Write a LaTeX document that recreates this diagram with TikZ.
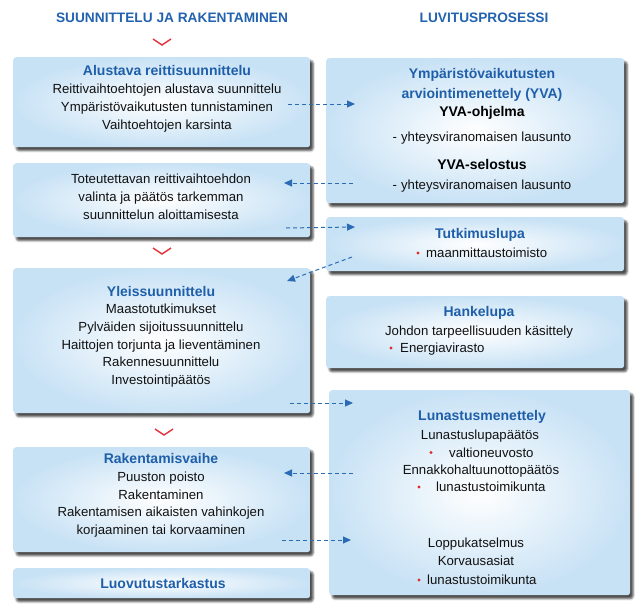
\documentclass[tikz,border=0pt]{standalone}
\usepackage{fontspec}
\setmainfont{Liberation Sans}
\usetikzlibrary{shadows.blur,arrows.meta}
\definecolor{ttlblue}{HTML}{1F5FAA}
\definecolor{hdrblue}{HTML}{2262AE}
\definecolor{arrblue}{HTML}{2A6BB3}
\definecolor{chevred}{HTML}{E5323C}
\definecolor{bulred}{HTML}{E02B2B}
\definecolor{boxblue}{HTML}{C8E2F5}
\definecolor{txt}{HTML}{111111}
\begin{document}
\begin{tikzpicture}[x=1pt,y=-1pt,
  box/.style={anchor=north west, inner sep=0pt, rounded corners=3pt, shade, inner color=white, outer color=boxblue,
    blur shadow={shadow xshift=3pt, shadow yshift=-3.5pt, shadow blur radius=2pt, shadow opacity=70}},
  ln/.style={anchor=base, inner sep=0pt, font=\fontsize{13.2}{15}\selectfont, text=txt},
  lnw/.style={ln, anchor=base west},
  ttl/.style={anchor=base, inner sep=0pt, font=\fontsize{14}{16}\selectfont\bfseries, text=ttlblue},
  sub/.style={ttl, text=black},
  hdr/.style={anchor=base, inner sep=0pt, font=\fontsize{13.7}{16}\selectfont\bfseries, text=hdrblue},
  bul/.style={circle, fill=bulred, inner sep=0pt, minimum size=3.4pt},
  dline/.style={draw=arrblue, line width=1pt, dash pattern=on 4pt off 3pt},
  darr/.style={dline, -{Triangle[length=8pt,width=7pt]}},
  chev/.style={draw=chevred, line width=1.4pt}]
\useasboundingbox (0,0) rectangle (644,610);

% headers
\node[hdr] (h1) at (172,23) {SUUNNITTELU JA RAKENTAMINEN};
\node[hdr] (h2) at (484,23) {LUVITUSPROSESSI};

% chevrons
\draw[chev] (153,39) -- (162,45) -- (171,39);
\draw[chev] (153,248) -- (162,254) -- (171,248);
\draw[chev] (155,429) -- (164,435) -- (173,429);

% boxes
\node[box, minimum width=297pt, minimum height=90pt] (b1) at (13,57) {};
\node[box, minimum width=297pt, minimum height=74pt] (b2) at (13,163) {};
\node[box, minimum width=297pt, minimum height=145pt] (b3) at (13,268) {};
\node[box, minimum width=297pt, minimum height=105pt] (b4) at (13,447) {};
\node[box, minimum width=297pt, minimum height=30pt] (b5) at (13,568) {};
\node[box, minimum width=298pt, minimum height=145pt] (r1) at (326,58) {};
\node[box, minimum width=298pt, minimum height=54pt] (r2) at (326,217) {};
\node[box, minimum width=298pt, minimum height=72pt] (r3) at (326,296) {};
\node[box, minimum width=301pt, minimum height=205pt] (r4) at (329,390) {};

% left texts
\node[ttl] (b1t) at (167,75) {Alustava reittisuunnittelu};
\node[ln] (b1a) at (167,93.5) {Reittivaihtoehtojen alustava suunnittelu};
\node[ln] (b1b) at (167,111) {Ympäristövaikutusten tunnistaminen};
\node[ln] (b1c) at (167,129.5) {Vaihtoehtojen karsinta};

\node[ln] (b2a) at (161,183.5) {Toteutettavan reittivaihtoehdon};
\node[ln] (b2b) at (161,201.5) {valinta ja päätös tarkemman};
\node[ln] (b2c) at (161,219.5) {suunnittelun aloittamisesta};

\node[ttl] (b3t) at (161,296) {Yleissuunnittelu};
\node[ln] (b3a) at (161,313.5) {Maastotutkimukset};
\node[ln] (b3b) at (161,331.5) {Pylväiden sijoitussuunnittelu};
\node[ln] (b3c) at (161,349) {Haittojen torjunta ja lieventäminen};
\node[ln] (b3d) at (161,366.5) {Rakennesuunnittelu};
\node[ln] (b3e) at (161,384.5) {Investointipäätös};

\node[ttl] (b4t) at (161,463) {Rakentamisvaihe};
\node[ln] (b4a) at (161,481.5) {Puuston poisto};
\node[ln] (b4b) at (161,499) {Rakentaminen};
\node[ln] (b4c) at (161,516.5) {Rakentamisen aikaisten vahinkojen};
\node[ln] (b4d) at (161,534.5) {korjaaminen tai korvaaminen};

\node[ttl] (b5t) at (163,588) {Luovutustarkastus};

% right texts
\node[ttl] (r1t) at (482,78) {Ympäristövaikutusten};
\node[ttl] (r1u) at (482,98) {arviointimenettely (YVA)};
\node[sub] (r1a) at (482,116) {YVA-ohjelma};
\node[ln] (r1b) at (482,141.5) {-\hspace{4pt}yhteysviranomaisen lausunto};
\node[sub] (r1c) at (482,169) {YVA-selostus};
\node[ln] (r1d) at (482,189.5) {-\hspace{4pt}yhteysviranomaisen lausunto};

\node[ttl] (r2t) at (480,238) {Tutkimuslupa};
\node[bul] (r2p) at (418,253) {};
\node[lnw] (r2a) at (426,257.5) {maanmittaustoimisto};

\node[ttl] (r3t) at (479,316) {Hankelupa};
\node[ln] (r3a) at (479,335.5) {Johdon tarpeellisuuden käsittely};
\node[bul] (r3p) at (391,348) {};
\node[lnw] (r3b) at (400,352.5) {Energiavirasto};

\node[ttl] (r4t) at (482,420) {Lunastusmenettely};
\node[ln] (r4a) at (480,439.5) {Lunastuslupapäätös};
\node[bul] (r4p) at (431,452.5) {};
\node[lnw] (r4b) at (449,457.5) {valtioneuvosto};
\node[ln] (r4c) at (481,474.5) {Ennakkohaltuunottopäätös};
\node[bul] (r4q) at (419,487) {};
\node[lnw] (r4d) at (436,491.5) {lunastustoimikunta};
\node[ln] (r4e) at (476,547.5) {Loppukatselmus};
\node[ln] (r4f) at (476,565.5) {Korvausasiat};
\node[bul] (r4r) at (419,580) {};
\node[lnw] (r4g) at (427,584.5) {lunastustoimikunta};

% connector end points
\coordinate (c1s) at (288,104);
\coordinate (c1e) at (355,104);
\coordinate (c2s) at (353,183);
\coordinate (c2e) at (284,183);
\coordinate (c3s) at (286,228);
\coordinate (c3e) at (355,227);
\coordinate (c4s) at (352,257);
\coordinate (c4e) at (287,281);
\coordinate (c5s) at (290,403);
\coordinate (c5e) at (353,403);
\coordinate (c6s) at (353,473);
\coordinate (c6e) at (284,473);
\coordinate (c7s) at (282,540);
\coordinate (c7e) at (351,540);

\draw[darr] (c1s) -- (c1e);
\draw[darr] (c2s) -- (c2e);
\draw[darr] (c3s) -- (c3e);
\draw[darr] (c4s) -- (c4e);
\draw[darr] (c5s) -- (c5e);
\draw[darr] (c6s) -- (c6e);
\draw[darr] (c7s) -- (c7e);
\end{tikzpicture}
\end{document}
